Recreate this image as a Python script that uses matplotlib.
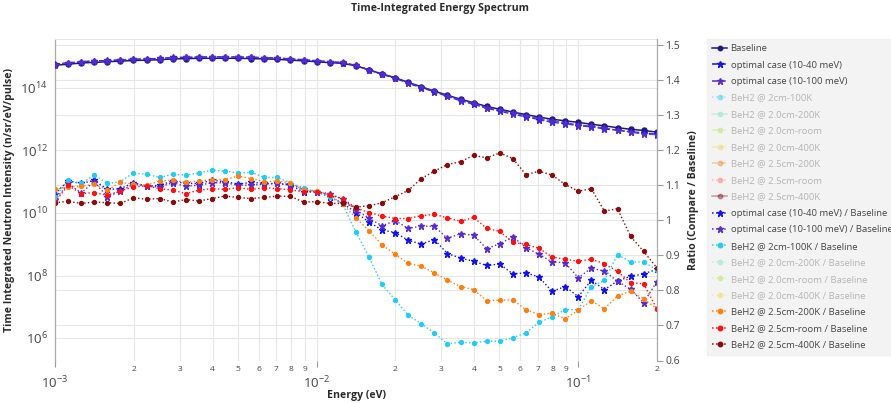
import matplotlib
matplotlib.use("Agg")
import matplotlib.pyplot as plt
import numpy as np
from matplotlib.lines import Line2D
from matplotlib.transforms import blended_transform_factory

plt.rcParams["font.family"] = ["Open Sans", "DejaVu Sans"]
plt.rcParams["mathtext.fontset"] = "custom"
plt.rcParams["mathtext.rm"] = "Open Sans"
plt.rcParams["mathtext.it"] = "Open Sans:italic"
plt.rcParams["mathtext.bf"] = "Open Sans:bold"

# energy bins (eV), 20 per decade
energy = [
    0.001, 0.001122, 0.001259, 0.001413, 0.001585, 0.001778, 0.001995, 0.002239,
    0.002512, 0.002818, 0.003162, 0.003548, 0.003981, 0.004467, 0.005012, 0.005623,
    0.006310, 0.007079, 0.007943, 0.008913, 0.01, 0.01122, 0.01259, 0.01413,
    0.01585, 0.01778, 0.01995, 0.02239, 0.02512, 0.02818, 0.03162, 0.03548,
    0.03981, 0.04467, 0.05012, 0.05623, 0.06310, 0.07079, 0.07943, 0.08913,
    0.1, 0.1122, 0.1259, 0.1413, 0.1585, 0.1778, 0.1995,
]

# intensities, stored as log10(n/sr/eV/pulse)
baseline_log10 = [
    14.73, 14.76, 14.80, 14.82, 14.84, 14.86, 14.88, 14.89, 14.905, 14.93,
    14.94, 14.95, 14.95, 14.95, 14.95, 14.94, 14.93, 14.92, 14.89, 14.87,
    14.84, 14.81, 14.79, 14.71, 14.58, 14.45, 14.33, 14.18, 14.04, 13.90,
    13.77, 13.64, 13.53, 13.41, 13.32, 13.23, 13.15, 13.07, 13.00, 12.95,
    12.90, 12.84, 12.79, 12.73, 12.68, 12.64, 12.59,
]
opt40_log10 = [
    14.76, 14.81, 14.84, 14.87, 14.88, 14.90, 14.92, 14.93, 14.95, 14.98,
    14.98, 14.99, 15.00, 15.00, 14.99, 14.99, 14.97, 14.96, 14.93, 14.90,
    14.87, 14.84, 14.81, 14.72, 14.58, 14.44, 14.31, 14.15, 14.01, 13.88,
    13.73, 13.59, 13.48, 13.35, 13.26, 13.16, 13.08, 12.99, 12.90, 12.86,
    12.79, 12.76, 12.69, 12.65, 12.60, 12.57, 12.52,
]
opt100_log10 = [
    14.75, 14.80, 14.83, 14.87, 14.87, 14.90, 14.92, 14.93, 14.94, 14.97,
    14.98, 14.99, 14.99, 14.99, 14.99, 14.98, 14.97, 14.96, 14.93, 14.91,
    14.87, 14.84, 14.82, 14.72, 14.58, 14.44, 14.33, 14.17, 14.03, 13.89,
    13.75, 13.62, 13.51, 13.37, 13.29, 13.21, 13.11, 13.03, 12.95, 12.89,
    12.82, 12.78, 12.72, 12.65, 12.59, 12.52, 12.51,
]

# ratios to baseline (right axis)
ratio_opt40 = [
    1.076, 1.112, 1.105, 1.114, 1.088, 1.090, 1.107, 1.097, 1.100, 1.112,
    1.105, 1.105, 1.114, 1.110, 1.103, 1.108, 1.105, 1.105, 1.100, 1.081,
    1.081, 1.067, 1.048, 1.022, 0.995, 0.972, 0.965, 0.943, 0.932, 0.945,
    0.905, 0.892, 0.883, 0.871, 0.875, 0.847, 0.850, 0.838, 0.797, 0.811,
    0.782, 0.829, 0.802, 0.827, 0.840, 0.847, 0.860,
]
ratio_opt100 = [
    1.057, 1.105, 1.078, 1.110, 1.067, 1.083, 1.103, 1.097, 1.095, 1.107,
    1.097, 1.100, 1.107, 1.107, 1.100, 1.100, 1.103, 1.105, 1.103, 1.088,
    1.081, 1.076, 1.060, 1.030, 1.006, 0.984, 0.999, 0.977, 0.983, 0.983,
    0.948, 0.962, 0.957, 0.919, 0.933, 0.953, 0.922, 0.903, 0.881, 0.879,
    0.836, 0.863, 0.855, 0.826, 0.803, 0.765, 0.824,
]
ratio_2cm_100k = [
    1.067, 1.114, 1.105, 1.129, 1.105, 1.110, 1.135, 1.131, 1.122, 1.131,
    1.129, 1.135, 1.143, 1.140, 1.135, 1.137, 1.122, 1.122, 1.107, 1.092,
    1.081, 1.067, 1.045, 0.967, 0.895, 0.817, 0.773, 0.729, 0.705, 0.678,
    0.648, 0.652, 0.650, 0.655, 0.655, 0.665, 0.679, 0.709, 0.724, 0.745,
    0.745, 0.810, 0.829, 0.902, 0.881, 0.881, 0.859,
]
ratio_25cm_200k = [
    1.088, 1.095, 1.097, 1.103, 1.086, 1.108, 1.103, 1.100, 1.112, 1.114,
    1.108, 1.112, 1.116, 1.116, 1.126, 1.119, 1.110, 1.112, 1.107, 1.086,
    1.084, 1.072, 1.045, 1.007, 0.970, 0.930, 0.903, 0.877, 0.869, 0.850,
    0.829, 0.811, 0.802, 0.771, 0.772, 0.773, 0.745, 0.731, 0.735, 0.719,
    0.744, 0.770, 0.748, 0.784, 0.798, 0.776, 0.748,
]
ratio_25cm_room = [
    1.052, 1.100, 1.076, 1.079, 1.071, 1.084, 1.095, 1.098, 1.090, 1.086,
    1.076, 1.086, 1.090, 1.088, 1.093, 1.088, 1.093, 1.090, 1.087, 1.081,
    1.082, 1.071, 1.062, 1.035, 1.022, 1.012, 1.005, 1.005, 1.013, 1.017,
    1.007, 0.997, 1.008, 0.977, 0.968, 0.937, 0.931, 0.920, 0.895, 0.889,
    0.883, 0.889, 0.876, 0.854, 0.822, 0.819, 0.748,
]
ratio_25cm_400k = [
    1.050, 1.054, 1.048, 1.052, 1.050, 1.048, 1.064, 1.060, 1.062, 1.052,
    1.059, 1.055, 1.062, 1.069, 1.065, 1.062, 1.065, 1.069, 1.068, 1.052,
    1.053, 1.048, 1.048, 1.038, 1.041, 1.050, 1.067, 1.085, 1.119, 1.140,
    1.159, 1.167, 1.185, 1.178, 1.192, 1.176, 1.130, 1.140, 1.129, 1.102,
    1.083, 1.090, 1.026, 1.033, 0.954, 0.911, 0.865,
]

C_BASE = "#1a1a80"
C_OPT40 = "#1010f0"
C_OPT100 = "#5a2ccc"
C_CYAN = "#22ccf5"
C_AQUA = "#7fe8c8"
C_LIME = "#b0e85a"
C_GOLD = "#f0d850"
C_ORANGE = "#ff8010"
C_SALMON = "#ff7060"
C_RED = "#ff1010"
C_DRED = "#8b0a0a"
GRID = "#e6e6e6"
TXT = "#444444"

W, H = 891, 403
fig = plt.figure(figsize=(W / 100, H / 100), dpi=100)
x0, x1, y0, y1 = 55, 657, 39, 360.5
ax = fig.add_axes([x0 / W, 1 - y1 / H, (x1 - x0) / W, (y1 - y0) / H])
ax2 = ax.twinx()

ax.set_xscale("log")
ax.set_yscale("log")
ax.set_xlim(0.001, 0.1995)
ax.set_ylim(10 ** 5.28, 10 ** 15.568)
ax2.set_ylim(0.6, 1.517)

# grids, drawn in ax so they sit under every trace
ax.set_axisbelow(True)
ax.grid(True, which="both", axis="x", color=GRID, lw=0.8)
ax.set_yticks([1e6, 1e8, 1e10, 1e12, 1e14])
ax.grid(True, which="major", axis="y", color=GRID, lw=0.8)
ax.yaxis.set_minor_locator(matplotlib.ticker.NullLocator())
rtrans = blended_transform_factory(ax.transAxes, ax2.transData)
ratio_ticks = [0.6, 0.7, 0.8, 0.9, 1.0, 1.1, 1.2, 1.3, 1.4, 1.5]
for r in ratio_ticks[1:]:
    ax.plot([0, 1], [r, r], transform=rtrans, color=GRID, lw=0.8, zorder=0.5)

E = np.array(energy)
ax.plot(E, np.power(10, baseline_log10), color=C_BASE, lw=1.1, marker="o", ms=3.6, zorder=3)
ax.plot(E, np.power(10, opt40_log10), color=C_OPT40, lw=1.0, ls="--", marker="*", ms=5, zorder=3, alpha=0.85)
ax.plot(E, np.power(10, opt100_log10), color=C_OPT100, lw=1.0, ls="--", marker="*", ms=5, zorder=3, alpha=0.85)

ratio_series = [
    (ratio_opt40, C_OPT40, "*", 5),
    (ratio_opt100, C_OPT100, "*", 5),
    (ratio_2cm_100k, C_CYAN, "o", 2.8),
    (ratio_25cm_200k, C_ORANGE, "o", 2.8),
    (ratio_25cm_room, C_RED, "o", 2.8),
    (ratio_25cm_400k, C_DRED, "o", 2.8),
]
for vals, col, mk, ms in ratio_series:
    ax.plot(E, vals, transform=ax2.transData, color=col, lw=1.0, ls=":",
            marker=mk, ms=ms, zorder=2)

# x ticks: decades with small digit labels in between
ax.set_xticks([1e-3, 1e-2, 1e-1])
ax.set_xticklabels([r"$10^{-3}$", r"$10^{-2}$", r"$10^{-1}$"], fontsize=9.5, color=TXT)
minor = []
minor_lab = []
for dec in [1e-3, 1e-2, 1e-1]:
    for k in range(2, 10):
        v = k * dec
        if v <= 0.2:
            minor.append(v)
            minor_lab.append(str(k))
ax.set_xticks(minor, minor=True)
ax.set_xticklabels(minor_lab, minor=True, fontsize=6, color=TXT)
ax.tick_params(axis="x", which="major", length=4, width=0.8, color="#999999", pad=6)
ax.tick_params(axis="x", which="minor", length=0, pad=4)

ax.set_yticklabels([r"$10^{6}$", r"$10^{8}$", r"$10^{10}$", r"$10^{12}$", r"$10^{14}$"],
                   fontsize=9.5, color=TXT)
ax.tick_params(axis="y", which="major", length=0, pad=5)

ax2.set_yticks(ratio_ticks)
ax2.set_yticklabels(["0.6", "0.7", "0.8", "0.9", "1", "1.1", "1.2", "1.3", "1.4", "1.5"],
                    fontsize=7.5, color=TXT)
ax2.tick_params(axis="y", length=4, width=0.8, color="#999999", pad=2)

for a in (ax, ax2):
    for s in a.spines.values():
        s.set_visible(False)
ax.spines["left"].set_visible(True)
ax.spines["left"].set_color("#aaaaaa")
ax.spines["left"].set_linewidth(0.9)
ax.spines["top"].set_visible(True)
ax.spines["top"].set_color(GRID)
ax2.spines["right"].set_visible(True)
ax2.spines["right"].set_color("#aaaaaa")
ax2.spines["right"].set_linewidth(0.9)

lab = dict(fontsize=7.6, fontweight="bold", color="#2a2a2a")
ax.set_xlabel("Energy (eV)", **lab)
ax.xaxis.set_label_coords(0.5, -0.092)
ax.set_ylabel("Time Integrated Neutron Intensity (n/sr/eV/pulse)", **lab)
ax.yaxis.set_label_coords(-0.066, 0.5)
ax2.set_ylabel("Ratio (Compare / Baseline)", **lab)
ax2.yaxis.set_label_coords(1.052, 0.5)
fig.text(440 / W, 1 - 8 / H, "Time-Integrated Energy Spectrum", ha="center", va="center", **lab)

# legend: greyed entries are traces that are switched off
legend_items = [
    ("Baseline", C_BASE, "-", "o", True),
    ("optimal case (10-40 meV)", C_OPT40, "--", "*", True),
    ("optimal case (10-100 meV)", C_OPT100, "--", "*", True),
    ("BeH2 @ 2cm-100K", C_CYAN, ":", "o", False),
    ("BeH2 @ 2.0cm-200K", C_AQUA, "-", "o", False),
    ("BeH2 @ 2.0cm-room", C_LIME, "-.", "o", False),
    ("BeH2 @ 2.0cm-400K", C_GOLD, "--", "o", False),
    ("BeH2 @ 2.5cm-200K", C_ORANGE, "--", "o", False),
    ("BeH2 @ 2.5cm-room", C_SALMON, ":", "o", False),
    ("BeH2 @ 2.5cm-400K", C_DRED, "-", "o", False),
    ("optimal case (10-40 meV) / Baseline", C_OPT40, ":", "*", True),
    ("optimal case (10-100 meV) / Baseline", C_OPT100, ":", "*", True),
    ("BeH2 @ 2cm-100K / Baseline", C_CYAN, ":", "o", True),
    ("BeH2 @ 2.0cm-200K / Baseline", C_AQUA, ":", "o", False),
    ("BeH2 @ 2.0cm-room / Baseline", C_LIME, ":", "o", False),
    ("BeH2 @ 2.0cm-400K / Baseline", C_GOLD, ":", "o", False),
    ("BeH2 @ 2.5cm-200K / Baseline", C_ORANGE, ":", "o", True),
    ("BeH2 @ 2.5cm-room / Baseline", C_RED, ":", "o", True),
    ("BeH2 @ 2.5cm-400K / Baseline", C_DRED, ":", "o", True),
]
handles = []
for name, col, ls, mk, shown in legend_items:
    handles.append(Line2D([], [], color=col, ls=ls, lw=1.1, marker=mk,
                          ms=5 if mk == "*" else 3.2, alpha=1.0 if shown else 0.4))
leg = fig.legend(handles, [it[0] for it in legend_items], loc="upper left",
                 bbox_to_anchor=(707 / W, 1 - 39 / H), frameon=True, fancybox=False,
                 fontsize=6.8, handlelength=1.6, handletextpad=0.35, labelspacing=0.79,
                 borderaxespad=0, borderpad=0.55)
leg.get_frame().set_facecolor("#f0f0f0")
leg.get_frame().set_edgecolor("#f0f0f0")
for txt, it in zip(leg.get_texts(), legend_items):
    txt.set_color(TXT if it[4] else "#b4b4b4")

fig.savefig("out.png", dpi=100)
